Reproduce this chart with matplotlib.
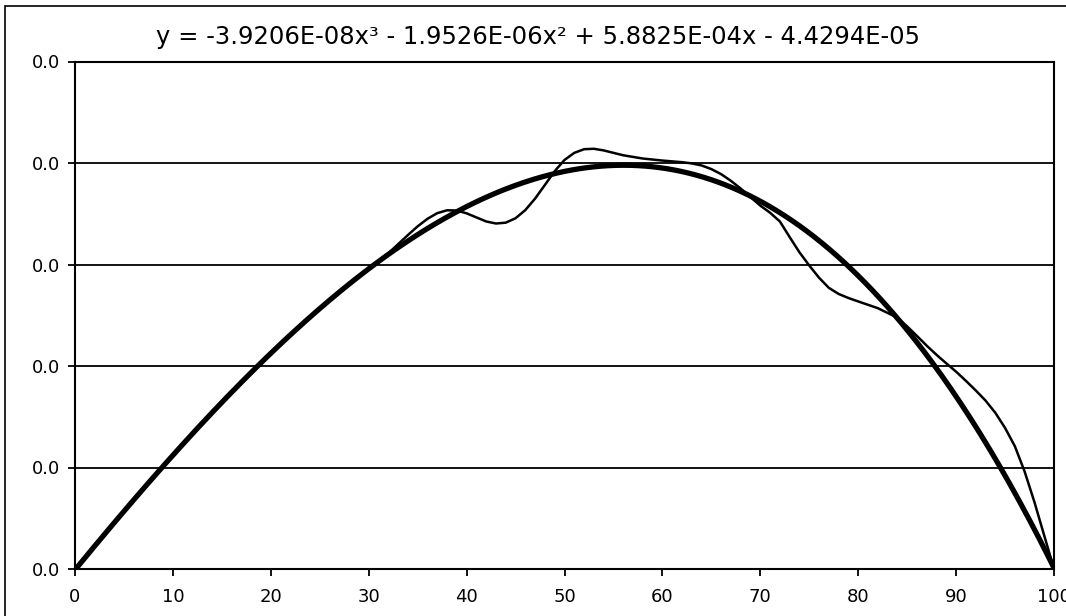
import numpy as np
import matplotlib
matplotlib.use("Agg")
import matplotlib.pyplot as plt
from matplotlib.ticker import FormatStrFormatter, MultipleLocator
from matplotlib.patches import Rectangle

# Measured profile (position along the span, value)
pos = [0, 5, 10, 15, 20, 22, 24, 26, 28, 30, 31, 32, 33, 34, 35, 36, 37, 38,
       39, 40, 41, 42, 43, 44, 45, 46, 47, 48, 49, 50, 51, 52, 53, 54, 55,
       56, 58, 60, 62, 63, 64, 65, 66, 67, 68, 69, 70, 71, 72, 73, 74, 75,
       76, 77, 78, 79, 80, 82, 84, 85, 86, 87, 88, 89, 90, 91, 92, 93, 94,
       95, 96, 97, 98, 99, 100]
val = [0.0, 0.00284, 0.00560, 0.00822, 0.01066, 0.01155, 0.01240, 0.01326,
       0.01405, 0.01478, 0.01515, 0.01555, 0.01600, 0.01645, 0.01688,
       0.01725, 0.01753, 0.01767, 0.01766, 0.01752, 0.01732, 0.01712,
       0.01702, 0.01706, 0.01728, 0.01768, 0.01825, 0.01892, 0.01960,
       0.02015, 0.02050, 0.02068, 0.02070, 0.02062, 0.02050, 0.02038,
       0.02022, 0.02012, 0.02004, 0.01998, 0.01988, 0.01970, 0.01945,
       0.01912, 0.01874, 0.01832, 0.01790, 0.01755, 0.01712, 0.01635,
       0.01560, 0.01495, 0.01435, 0.01385, 0.01355, 0.01335, 0.01318,
       0.01285, 0.01238, 0.01195, 0.01148, 0.01100, 0.01055, 0.01013,
       0.00972, 0.00927, 0.00880, 0.00830, 0.00770, 0.00695, 0.00605,
       0.00480, 0.00330, 0.00165, 0.0]

# Cubic trendline coefficients (x^3, x^2, x, 1)
trend_coef = [-3.9206e-08, -1.9526e-06, 5.8825e-04, -4.4294e-05]
trend_label = "y = -3.9206E-08x³ - 1.9526E-06x² + 5.8825E-04x - 4.4294E-05"

x_ticks = [0, 10, 20, 30, 40, 50, 60, 70, 80, 90, 100]

W, H = 1066, 616
fig = plt.figure(figsize=(W / 100, H / 100), dpi=100)
fig.patch.set_facecolor("white")

# Outer chart frame
fig.patches.append(Rectangle((5 / W, -0.05), 1.2, 1 - 6 / H + 0.05,
                             transform=fig.transFigure, fill=False,
                             edgecolor="black", linewidth=1.2))

ax = fig.add_axes([75 / W, 1 - 569 / H, (1054 - 75) / W, (569 - 61.5) / H])
ax.set_xlim(0, 100)
ax.set_ylim(0, 0.025)

ax.yaxis.set_major_locator(MultipleLocator(0.005))
ax.yaxis.set_major_formatter(FormatStrFormatter("%.1f"))
ax.set_xticks(x_ticks)
ax.grid(axis="y", color="black", linewidth=1.3)
ax.set_axisbelow(True)

for s in ax.spines.values():
    s.set_color("black")
    s.set_linewidth(1.5)

ax.tick_params(axis="both", direction="out", length=5, width=1.3,
               colors="black", labelsize=13)
ax.tick_params(axis="x", pad=9)
ax.tick_params(axis="y", pad=6)

xs = np.linspace(0, 100, 401)
ax.plot(xs, np.polyval(trend_coef, xs), color="black", linewidth=3.8,
        solid_capstyle="round", zorder=3)
ax.plot(pos, val, color="black", linewidth=1.8, solid_joinstyle="round",
        zorder=4)

fig.text(538 / W, 1 - 37 / H, trend_label, ha="center", va="center",
         fontsize=17.5, color="black")

fig.savefig("out.png", dpi=100)
